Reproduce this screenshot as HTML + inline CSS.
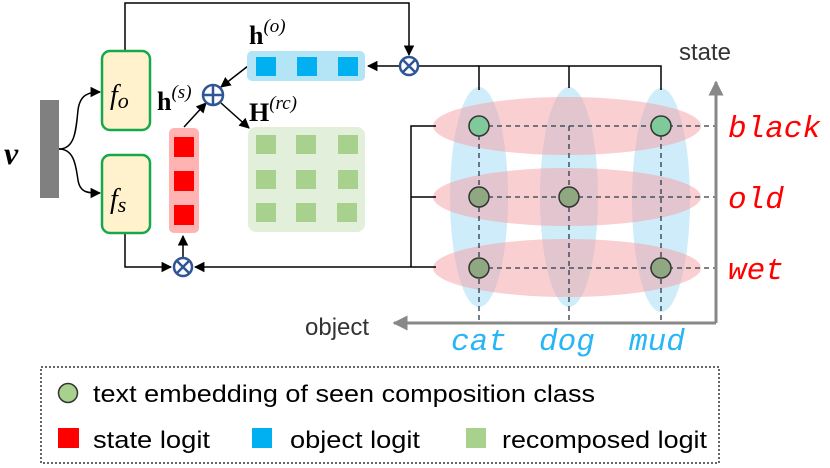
<!DOCTYPE html>
<html><head><meta charset="utf-8"><style>html,body{margin:0;padding:0;background:#fff}svg{display:block}</style></head>
<body>
<svg width="830" height="468" viewBox="0 0 830 468" xmlns="http://www.w3.org/2000/svg">
<defs>
<marker id="ah" viewBox="0 0 10 10" refX="9" refY="5" markerWidth="7" markerHeight="7" orient="auto-start-reverse"><path d="M0,0 L10,5 L0,10 z" fill="#000"/></marker>
<marker id="ag" viewBox="0 0 10 10" refX="9" refY="5" markerWidth="5" markerHeight="5" orient="auto"><path d="M0,0 L10,5 L0,10 z" fill="#888"/></marker>
</defs>
<g opacity="0.75">
<ellipse cx="479" cy="197" rx="29" ry="110" fill="#bfe6f8"/>
<ellipse cx="569" cy="197" rx="29" ry="110" fill="#bfe6f8"/>
<ellipse cx="661" cy="200" rx="29" ry="112" fill="#bfe6f8"/>
</g>
<g fill="#f6a0a4" opacity="0.5">
<ellipse cx="567" cy="126" rx="134" ry="29"/>
<ellipse cx="567" cy="197" rx="134" ry="29"/>
<ellipse cx="567" cy="268" rx="134" ry="29"/>
</g>
<g stroke="#2a3a4a" stroke-width="1.3" stroke-dasharray="5,4" fill="none">
<path d="M479 126 H715 M479 197 H715 M479 268 H715"/>
<path d="M479 126 V323 M569 126 V323 M661 126 V323"/>
</g>
<path d="M716 323 V82" stroke="#888" stroke-width="3" fill="none" marker-end="url(#ag)"/>
<path d="M716 323 H394" stroke="#888" stroke-width="3" fill="none" marker-end="url(#ag)"/>
<text x="679" y="60" font-family="Liberation Sans, sans-serif" font-size="24" fill="#333">state</text>
<text x="305" y="335" font-family="Liberation Sans, sans-serif" font-size="24" fill="#333">object</text>
<g font-family="Liberation Mono, monospace" font-style="italic" font-size="31" fill="#f00">
<text x="728" y="137">black</text><text x="728" y="208">old</text><text x="728" y="279">wet</text>
</g>
<g font-family="Liberation Mono, monospace" font-style="italic" font-size="31" fill="#29b6f6">
<text x="451" y="350">cat</text><text x="539" y="350">dog</text><text x="629" y="350">mud</text>
</g>
<g stroke="#333" stroke-width="1.5">
<circle cx="479" cy="126" r="10" fill="#7fc99b"/><circle cx="661" cy="126" r="10" fill="#7fc99b"/>
<circle cx="479" cy="197" r="10" fill="#8fa882"/><circle cx="569" cy="197" r="10" fill="#8fa882"/>
<circle cx="479" cy="268" r="10" fill="#8fa882"/><circle cx="661" cy="268" r="10" fill="#8fa882"/>
</g>
<g stroke="#000" stroke-width="1.5" fill="none">
<path d="M125 51 V3 H409 V55" marker-end="url(#ah)"/>
<path d="M479 90 V66 H661 V90 M569 66 V88"/>
<path d="M479 66 H419"/>
<path d="M419 66 H368" marker-end="url(#ah)"/>
<path d="M436 126 H411 V267 M411 197 H436 M411 267 H436"/>
<path d="M411 267 H195" marker-end="url(#ah)"/>
<path d="M125 233 V267 H171" marker-end="url(#ah)"/>
<path d="M183 257 V236" marker-end="url(#ah)"/>
<path d="M184 127 L206 103" marker-end="url(#ah)"/>
<path d="M248 66 L221 87" marker-end="url(#ah)"/>
<path d="M221 103 L249 128" marker-end="url(#ah)"/>
<path d="M59 149 C75 149 76 130 78 110 C80 95 88 92 100 92" marker-end="url(#ah)"/>
<path d="M59 149 C75 149 76 168 78 180 C80 193 88 193 100 193" marker-end="url(#ah)"/>
</g>
<g stroke="#2f5597" stroke-width="2.5" fill="#fff">
<circle cx="409" cy="66" r="9"/><path d="M403 60 L415 72 M415 60 L403 72"/>
<circle cx="183" cy="267" r="9"/><path d="M177 261 L189 273 M189 261 L177 273"/>
<circle cx="213" cy="95" r="10"/><path d="M203 95 H223 M213 85 V105"/>
</g>
<rect x="40" y="100" width="19" height="98" fill="#808080"/>
<text x="4" y="164" font-family="Liberation Serif, serif" font-style="italic" font-weight="bold" font-size="32">v</text>
<rect x="102" y="51" width="48" height="79" rx="8" fill="#fff2cc" stroke="#16a84a" stroke-width="2.5"/>
<rect x="102" y="155" width="48" height="78" rx="8" fill="#fff2cc" stroke="#16a84a" stroke-width="2.5"/>
<text x="110" y="104" font-family="Liberation Serif, serif" font-style="italic" font-size="28">f<tspan font-size="22" dy="4">o</tspan></text>
<text x="110" y="208" font-family="Liberation Serif, serif" font-style="italic" font-size="28">f<tspan font-size="22" dy="4">s</tspan></text>
<rect x="247" y="51" width="118" height="30" rx="5" fill="#b3e5f7"/>
<g fill="#00b0f0"><rect x="256" y="57" width="20" height="19"/><rect x="297" y="57" width="20" height="19"/><rect x="338" y="57" width="20" height="19"/></g>
<rect x="169" y="128" width="30" height="105" rx="5" fill="#ffb3b3"/>
<g fill="#f00"><rect x="174" y="137" width="20" height="20"/><rect x="174" y="171" width="20" height="20"/><rect x="174" y="205" width="20" height="20"/></g>
<rect x="248" y="127" width="117" height="105" rx="8" fill="#e2efda"/>
<g fill="#a9d18e">
<rect x="256" y="135" width="20" height="19"/><rect x="296" y="135" width="20" height="19"/><rect x="338" y="135" width="20" height="19"/>
<rect x="256" y="170" width="20" height="19"/><rect x="296" y="170" width="20" height="19"/><rect x="338" y="170" width="20" height="19"/>
<rect x="256" y="203" width="20" height="19"/><rect x="296" y="203" width="20" height="19"/><rect x="337" y="203" width="20" height="19"/>
</g>
<g font-family="Liberation Serif, serif" font-size="26" font-weight="bold">
<text x="249" y="44">h<tspan font-weight="normal" font-style="italic" font-size="19" dy="-12">(o)</tspan></text>
<text x="157" y="110">h<tspan font-weight="normal" font-style="italic" font-size="19" dy="-12">(s)</tspan></text>
<text x="249" y="121">H<tspan font-weight="normal" font-style="italic" font-size="19" dy="-12">(rc)</tspan></text>
</g>
<rect x="41" y="367" width="678" height="96" fill="none" stroke="#333" stroke-width="1.5" stroke-dasharray="2,2"/>
<circle cx="68" cy="393" r="9.5" fill="#a9d18e" stroke="#333" stroke-width="1.5"/>
<g font-family="Liberation Sans, sans-serif" font-size="24" fill="#000">
<text x="93" y="402" textLength="502" lengthAdjust="spacingAndGlyphs">text embedding of seen composition class</text>
<text x="93" y="448" textLength="117" lengthAdjust="spacingAndGlyphs">state logit</text>
<text x="290" y="448" textLength="130" lengthAdjust="spacingAndGlyphs">object logit</text>
<text x="502" y="448" textLength="205" lengthAdjust="spacingAndGlyphs">recomposed logit</text>
</g>
<rect x="58" y="428" width="21" height="20" fill="#f00"/>
<rect x="252" y="428" width="20" height="20" fill="#00b0f0"/>
<rect x="466" y="428" width="20" height="20" fill="#a9d18e"/>
</svg>
</body></html>
